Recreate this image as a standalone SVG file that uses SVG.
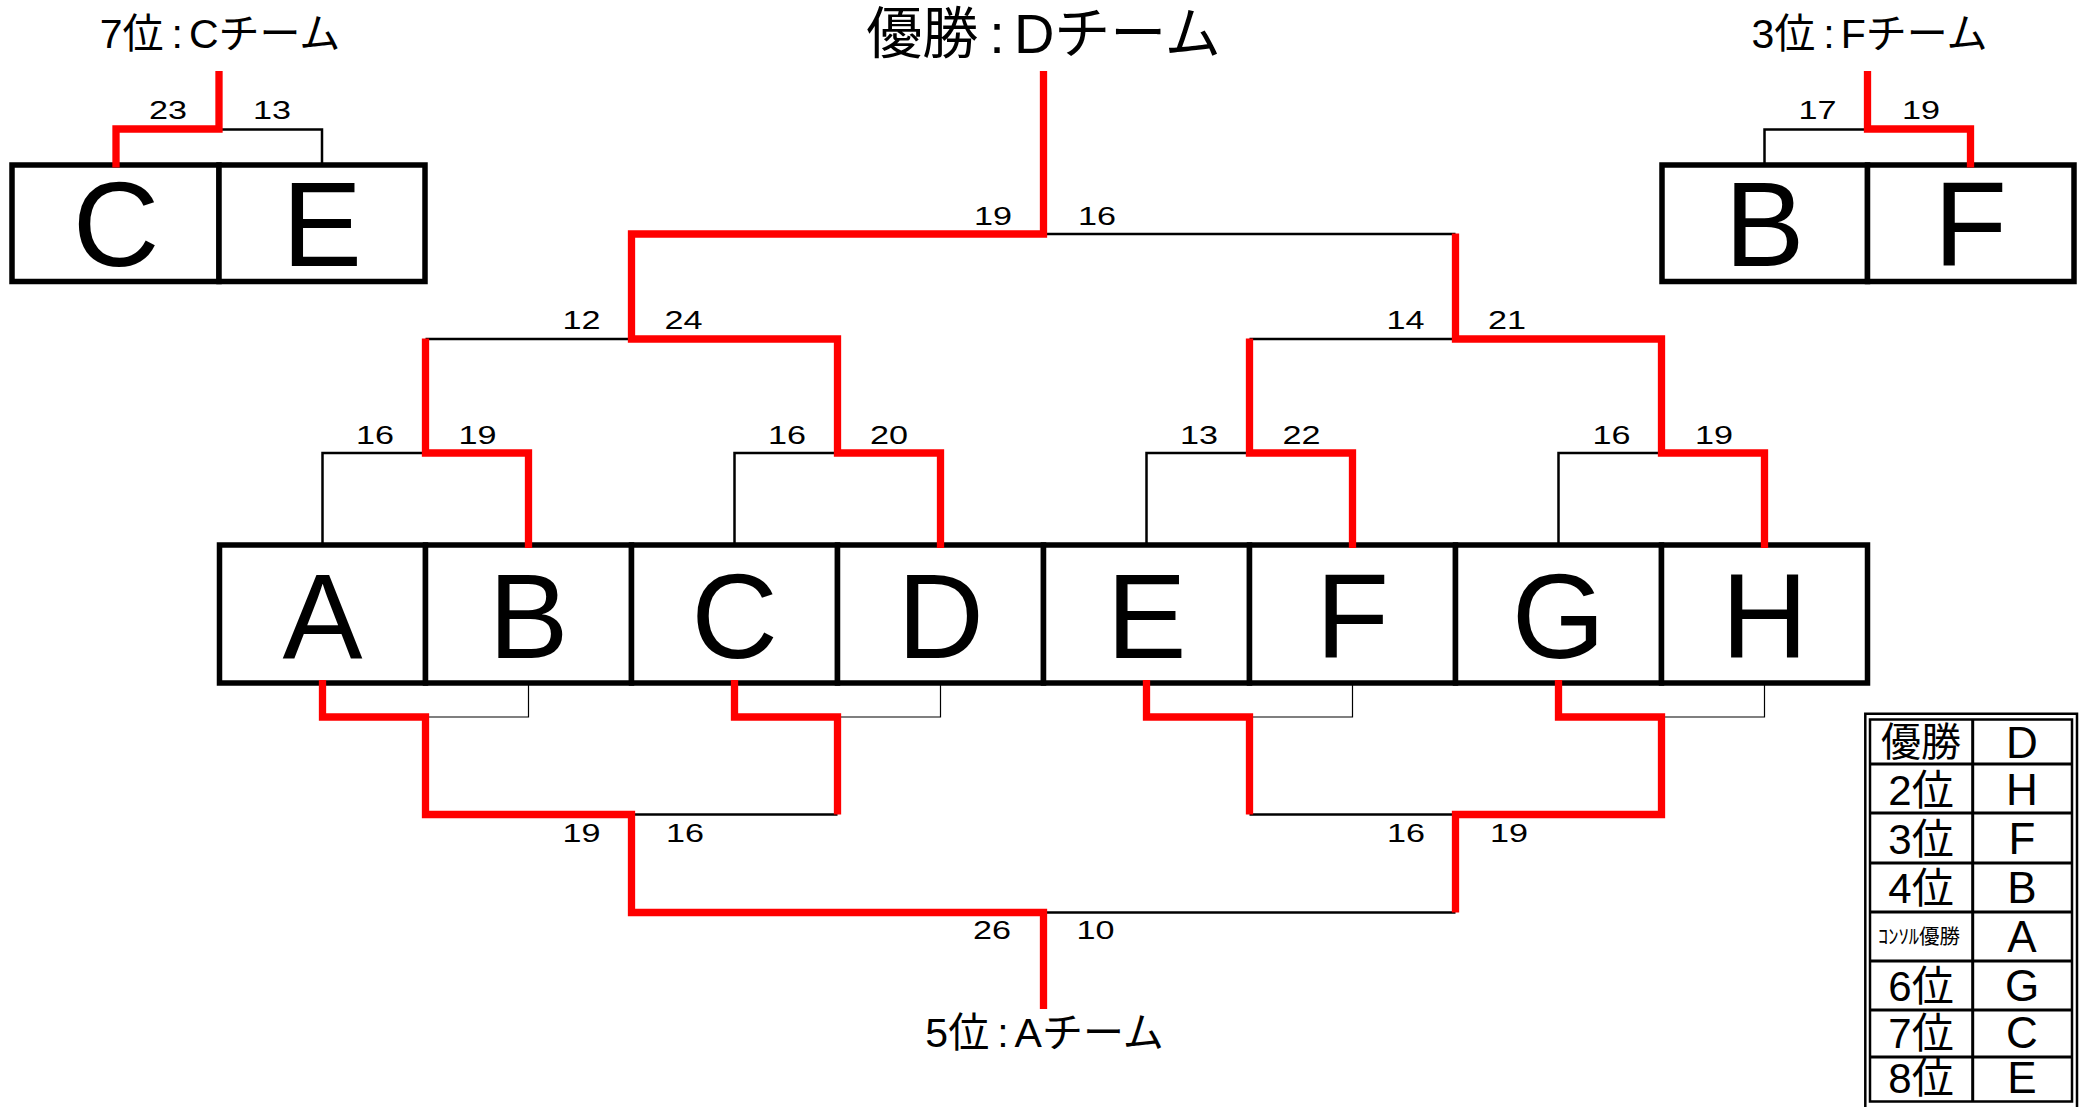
<svg xmlns="http://www.w3.org/2000/svg" width="2085" height="1107" viewBox="0 0 2085 1107">
<style>
.cell{fill:#fff;stroke:#000;stroke-width:5.5}
.big{font-family:"Liberation Sans",Arial,sans-serif;font-size:120px;text-anchor:middle;fill:#000}
.red{fill:none;stroke:#f00;stroke-width:7.3;stroke-linejoin:miter;stroke-linecap:butt}
.blk{fill:none;stroke:#000;stroke-width:2.5}
.thin{fill:none;stroke:#000;stroke-width:1.2}
.sc{font-family:"Liberation Sans",Arial,sans-serif;font-size:26px;text-anchor:middle;fill:#000}
.ttl{font-family:"Liberation Sans","Noto Sans CJK JP",sans-serif;font-size:41px;text-anchor:middle;fill:#000}
.ttl-big{font-size:56px}
.lg{font-family:"Liberation Sans","Noto Sans CJK JP",sans-serif;text-anchor:middle;fill:#000}
.lgrow{fill:none;stroke:#000;stroke-width:3}
</style>
<rect x="0" y="0" width="2085" height="1107" fill="#fff"/>

<!-- titles -->
<g id="title-champion"><text class="ttl ttl-big" x="1043.5" y="53">優勝<tspan dx="11">:</tspan><tspan dx="9">Dチーム</tspan></text></g>
<g id="title-7th"><text class="ttl" x="220" y="48">7位<tspan dx="8">:</tspan><tspan dx="6">Cチーム</tspan></text></g>
<g id="title-3rd"><text class="ttl" x="1869.5" y="48">3位<tspan dx="8">:</tspan><tspan dx="6">Fチーム</tspan></text></g>
<g id="title-5th"><text class="ttl" x="1044.5" y="1046.5">5位<tspan dx="8">:</tspan><tspan dx="6">Aチーム</tspan></text></g>

<!-- connectors -->
<g id="connectors">
  <!-- black upper -->
  <path class="blk" d="M1043.5 234H1455.5"/>
  <path class="blk" d="M425.5 339H631.5"/>
  <path class="blk" d="M1249.5 339H1455.5"/>
  <path class="blk" d="M322.5 545V453H425.5"/>
  <path class="blk" d="M734.5 545V453H837.5"/>
  <path class="blk" d="M1146.5 545V453H1249.5"/>
  <path class="blk" d="M1558.5 545V453H1661.5"/>
  <!-- black lower -->
  <path class="thin" d="M528.5 683V717H425.5"/>
  <path class="thin" d="M940.5 683V717H837.5"/>
  <path class="thin" d="M1352.5 683V717H1249.5"/>
  <path class="thin" d="M1764.5 683V717H1661.5"/>
  <path class="blk" d="M631.5 814.5H837.5"/>
  <path class="blk" d="M1249.5 814.5H1455.5"/>
  <path class="blk" d="M1043.5 912.5H1455.5"/>
  <!-- top small brackets black -->
  <path class="blk" d="M219 129.5H322V165"/>
  <path class="blk" d="M1867.5 129.5H1764.5V165"/>
</g>

<!-- nodes: top-left box -->
<g id="tl-C"><rect class="cell" x="12" y="165" width="207" height="116.5"/><text class="big" x="116" y="266">C</text></g>
<g id="tl-E"><rect class="cell" x="219" y="165" width="206" height="116.5"/><text class="big" x="322" y="266">E</text></g>
<!-- top-right box -->
<g id="tr-B"><rect class="cell" x="1662" y="165" width="205.5" height="116.5"/><text class="big" x="1764.5" y="266">B</text></g>
<g id="tr-F"><rect class="cell" x="1867.5" y="165" width="206.5" height="116.5"/><text class="big" x="1970.5" y="266">F</text></g>

<!-- main row -->
<g id="team-A"><rect class="cell" x="219.5" y="545" width="206" height="138"/><text class="big" x="322.5" y="658">A</text></g>
<g id="team-B"><rect class="cell" x="425.5" y="545" width="206" height="138"/><text class="big" x="528.5" y="658">B</text></g>
<g id="team-C"><rect class="cell" x="631.5" y="545" width="206" height="138"/><text class="big" x="734.5" y="658">C</text></g>
<g id="team-D"><rect class="cell" x="837.5" y="545" width="206" height="138"/><text class="big" x="940.5" y="658">D</text></g>
<g id="team-E"><rect class="cell" x="1043.5" y="545" width="206" height="138"/><text class="big" x="1146.5" y="658">E</text></g>
<g id="team-F"><rect class="cell" x="1249.5" y="545" width="206" height="138"/><text class="big" x="1352.5" y="658">F</text></g>
<g id="team-G"><rect class="cell" x="1455.5" y="545" width="206" height="138"/><text class="big" x="1558.5" y="658">G</text></g>
<g id="team-H"><rect class="cell" x="1661.5" y="545" width="206" height="138"/><text class="big" x="1764.5" y="658">H</text></g>

<!-- red winning paths (drawn over box borders) -->
<g id="connectors-red">
  <path class="red" d="M1043.5 71V234H631.5V339H837.5V453H940.5V548"/>
  <path class="red" d="M528.5 548V453H425.5V338.5"/>
  <path class="red" d="M1764.5 548V453H1661.5V339H1455.5V233.5"/>
  <path class="red" d="M1352.5 548V453H1249.5V338.5"/>
  <path class="red" d="M322.5 680V717H425.5V814.5H631.5V912.5H1043.5V1009"/>
  <path class="red" d="M734.5 680V717H837.5V814.5"/>
  <path class="red" d="M1558.5 680V717H1661.5V814.5H1455.5V912.5"/>
  <path class="red" d="M1146.5 680V717H1249.5V814.5"/>
  <path class="red" d="M219 71V129H116V167.5"/>
  <path class="red" d="M1867.5 71V129H1970.5V167.5"/>
</g>

<!-- score labels -->
<g id="scores">
  <text class="sc" x="993" y="225" textLength="38" lengthAdjust="spacingAndGlyphs">19</text>
  <text class="sc" x="1097" y="225" textLength="38" lengthAdjust="spacingAndGlyphs">16</text>
  <text class="sc" x="581.5" y="329" textLength="38" lengthAdjust="spacingAndGlyphs">12</text>
  <text class="sc" x="683.5" y="329" textLength="38" lengthAdjust="spacingAndGlyphs">24</text>
  <text class="sc" x="1405.5" y="329" textLength="38" lengthAdjust="spacingAndGlyphs">14</text>
  <text class="sc" x="1507" y="329" textLength="38" lengthAdjust="spacingAndGlyphs">21</text>
  <text class="sc" x="375" y="444" textLength="38" lengthAdjust="spacingAndGlyphs">16</text>
  <text class="sc" x="477.5" y="444" textLength="38" lengthAdjust="spacingAndGlyphs">19</text>
  <text class="sc" x="787" y="444" textLength="38" lengthAdjust="spacingAndGlyphs">16</text>
  <text class="sc" x="889" y="444" textLength="38" lengthAdjust="spacingAndGlyphs">20</text>
  <text class="sc" x="1199" y="444" textLength="38" lengthAdjust="spacingAndGlyphs">13</text>
  <text class="sc" x="1301.5" y="444" textLength="38" lengthAdjust="spacingAndGlyphs">22</text>
  <text class="sc" x="1611.5" y="444" textLength="38" lengthAdjust="spacingAndGlyphs">16</text>
  <text class="sc" x="1714" y="444" textLength="38" lengthAdjust="spacingAndGlyphs">19</text>
  <text class="sc" x="168" y="119" textLength="38" lengthAdjust="spacingAndGlyphs">23</text>
  <text class="sc" x="272" y="119" textLength="38" lengthAdjust="spacingAndGlyphs">13</text>
  <text class="sc" x="1817.5" y="119" textLength="38" lengthAdjust="spacingAndGlyphs">17</text>
  <text class="sc" x="1921" y="119" textLength="38" lengthAdjust="spacingAndGlyphs">19</text>
  <text class="sc" x="581.5" y="842" textLength="38" lengthAdjust="spacingAndGlyphs">19</text>
  <text class="sc" x="685" y="842" textLength="38" lengthAdjust="spacingAndGlyphs">16</text>
  <text class="sc" x="1406" y="842" textLength="38" lengthAdjust="spacingAndGlyphs">16</text>
  <text class="sc" x="1509" y="842" textLength="38" lengthAdjust="spacingAndGlyphs">19</text>
  <text class="sc" x="992" y="939" textLength="38" lengthAdjust="spacingAndGlyphs">26</text>
  <text class="sc" x="1095.5" y="939" textLength="38" lengthAdjust="spacingAndGlyphs">10</text>
</g>

<!-- legend table -->
<g id="legend">
  <path fill="none" stroke="#000" stroke-width="2.5" d="M1865.3 1115V713.8H2077V1115"/>
  <rect x="1870" y="719.5" width="202" height="382" fill="#fff" stroke="#000" stroke-width="2.5"/>
  <path class="lgrow" d="M1870 764H2072M1870 813H2072M1870 863H2072M1870 912H2072M1870 961H2072M1870 1010H2072M1870 1057H2072M1972.7 719.5V1101.5"/>
  <text class="lg" x="1921" y="756" font-size="40">優勝</text><text class="lg" x="2022" y="758" font-size="44">D</text>
  <text class="lg" x="1921" y="805" font-size="42">2位</text><text class="lg" x="2022" y="805" font-size="44">H</text>
  <text class="lg" x="1921" y="854" font-size="42">3位</text><text class="lg" x="2022" y="854" font-size="44">F</text>
  <text class="lg" x="1921" y="903" font-size="42">4位</text><text class="lg" x="2022" y="903" font-size="44">B</text>
  <text class="lg" x="1919" y="944" font-size="20.5">ｺﾝｿﾙ優勝</text><text class="lg" x="2022" y="952" font-size="44">A</text>
  <text class="lg" x="1921" y="1001" font-size="42">6位</text><text class="lg" x="2022" y="1001" font-size="44">G</text>
  <text class="lg" x="1921" y="1048" font-size="42">7位</text><text class="lg" x="2022" y="1048" font-size="44">C</text>
  <text class="lg" x="1921" y="1093" font-size="42">8位</text><text class="lg" x="2022" y="1093" font-size="44">E</text>
</g>
</svg>
